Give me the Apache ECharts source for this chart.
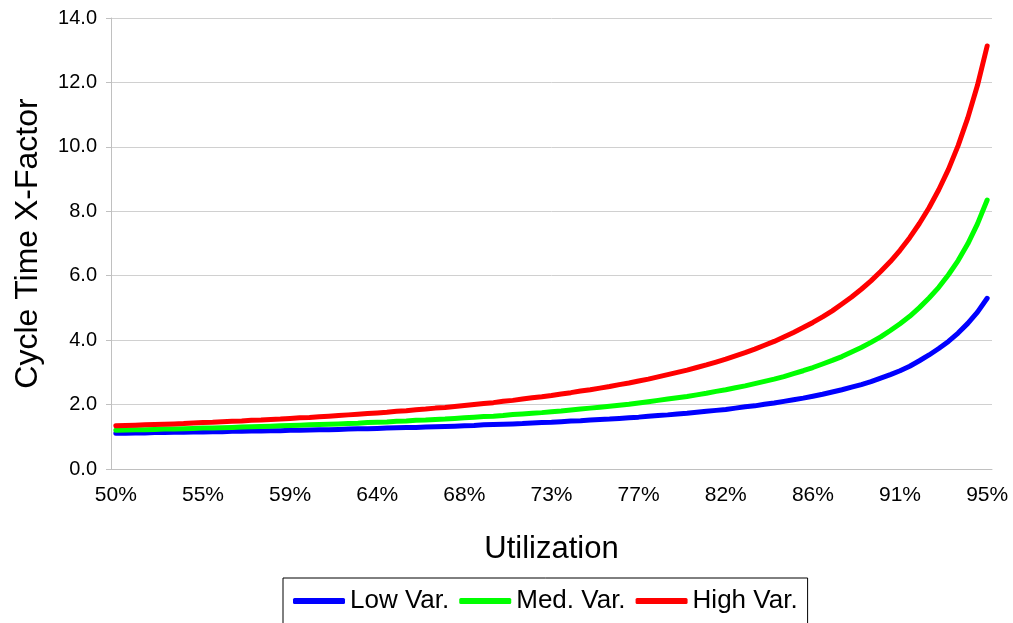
<!DOCTYPE html>
<html>
<head>
<meta charset="utf-8">
<script src="https://cdn.jsdelivr.net/npm/echarts@6/dist/echarts.min.js"></script>
<style>
html,body{margin:0;padding:0;background:#fff;}
#chart{width:1013px;height:623px;}
</style>
</head>
<body>
<div id="chart"></div>
<script>
// Utilization categories (percent)
const utilization = [50,50.5,51,51.5,52,52.5,53,53.5,54,54.5,55,55.5,56,56.5,57,57.5,58,58.5,59,59.5,60,60.5,61,61.5,62,62.5,63,63.5,64,64.5,65,65.5,66,66.5,67,67.5,68,68.5,69,69.5,70,70.5,71,71.5,72,72.5,73,73.5,74,74.5,75,75.5,76,76.5,77,77.5,78,78.5,79,79.5,80,80.5,81,81.5,82,82.5,83,83.5,84,84.5,85,85.5,86,86.5,87,87.5,88,88.5,89,89.5,90,90.5,91,91.5,92,92.5,93,93.5,94,94.5,95];

const tickLabels = ['50%','55%','59%','64%','68%','73%','77%','82%','86%','91%','95%'];
const yTickLabels = ['0.0','2.0','4.0','6.0','8.0','10.0','12.0','14.0'];

const lowVar = [1.11,1.11,1.12,1.12,1.13,1.13,1.14,1.14,1.15,1.15,
1.16,1.16,1.17,1.17,1.18,1.18,1.19,1.19,1.20,1.20,
1.21,1.22,1.22,1.23,1.24,1.25,1.25,1.26,1.27,1.28,
1.29,1.29,1.30,1.31,1.32,1.33,1.34,1.35,1.37,1.38,
1.39,1.40,1.41,1.43,1.44,1.45,1.47,1.49,1.50,1.52,
1.54,1.55,1.57,1.59,1.61,1.64,1.66,1.68,1.71,1.73,
1.76,1.79,1.82,1.85,1.89,1.93,1.96,2.01,2.05,2.10,
2.15,2.20,2.26,2.32,2.39,2.46,2.54,2.62,2.71,2.82,
2.93,3.05,3.19,3.36,3.54,3.74,3.96,4.22,4.52,4.87,
5.30];

const medVar = [1.20,1.21,1.22,1.22,1.23,1.24,1.24,1.25,1.26,1.27,
1.27,1.28,1.29,1.30,1.31,1.32,1.33,1.34,1.35,1.36,
1.37,1.38,1.39,1.40,1.41,1.42,1.44,1.45,1.46,1.48,
1.49,1.51,1.52,1.54,1.55,1.57,1.59,1.61,1.63,1.64,
1.66,1.69,1.71,1.73,1.75,1.78,1.80,1.83,1.86,1.89,
1.92,1.95,1.98,2.01,2.05,2.09,2.13,2.17,2.21,2.25,
2.30,2.35,2.41,2.46,2.52,2.58,2.65,2.72,2.79,2.87,
2.96,3.05,3.15,3.26,3.37,3.49,3.63,3.77,3.93,4.10,
4.30,4.51,4.74,5.01,5.31,5.64,6.03,6.47,6.99,7.61,
8.35];

const highVar = [1.34,1.35,1.36,1.37,1.38,1.39,1.40,1.41,1.43,1.44,
1.45,1.47,1.48,1.49,1.51,1.52,1.54,1.55,1.57,1.59,
1.60,1.62,1.64,1.66,1.68,1.70,1.72,1.74,1.76,1.79,
1.81,1.84,1.86,1.89,1.91,1.94,1.97,2.00,2.03,2.06,
2.10,2.13,2.17,2.21,2.24,2.28,2.33,2.37,2.42,2.46,
2.51,2.56,2.62,2.67,2.73,2.79,2.86,2.93,3.00,3.07,
3.15,3.23,3.32,3.41,3.51,3.61,3.72,3.84,3.96,4.10,
4.24,4.39,4.55,4.72,4.91,5.12,5.34,5.58,5.84,6.13,
6.44,6.79,7.18,7.62,8.11,8.67,9.30,10.04,10.90,11.91,
13.13];

const seriesNames = ['Low Var.','Med. Var.','High Var.'];
const seriesColors = ['#0000FF','#00FF00','#FF0000'];
const FONT = "'Liberation Sans', Arial, sans-serif";

const chart = echarts.init(document.getElementById('chart'), null, {renderer:'canvas'});
chart.setOption({
  backgroundColor:'#ffffff',
  animation:false,
  textStyle:{fontFamily:FONT},
  grid:{left:111, right:21, top:18, bottom:154, containLabel:false},
  legend:{
    data:seriesNames,
    left:283, top:578,
    orient:'horizontal',
    icon:'roundRect',
    itemWidth:52, itemHeight:6,
    itemGap:10,
    padding:[10,10,10,10],
    borderColor:'#000', borderWidth:1, borderRadius:0,
    backgroundColor:'#fff',
    textStyle:{fontSize:26, color:'#000', fontFamily:FONT}
  },
  xAxis:{
    type:'category',
    data:utilization.map(String),
    boundaryGap:true,
    axisLine:{show:true, lineStyle:{color:'#c0c0c0', width:1}},
    axisTick:{show:false},
    splitLine:{show:false},
    axisLabel:{
      interval:8,
      color:'#000', fontSize:21, margin:16, fontFamily:FONT,
      formatter:function(v, i){ const k = i/9; return tickLabels[k] !== undefined ? tickLabels[k] : ''; }
    },
    name:'Utilization',
    nameLocation:'middle',
    nameGap:80,
    nameTextStyle:{fontSize:31, color:'#000', fontFamily:FONT, verticalAlign:'middle'}
  },
  yAxis:{
    type:'value',
    min:0, max:14, interval:2,
    axisLine:{show:true, lineStyle:{color:'#c0c0c0', width:1}},
    axisTick:{show:true, length:5, lineStyle:{color:'#c0c0c0'}},
    splitLine:{show:true, lineStyle:{color:'#d0d0d0', width:1}},
    axisLabel:{
      color:'#000', fontSize:20, margin:14, fontFamily:FONT,
      formatter:function(v){ const k = Math.round(v/2); return yTickLabels[k] !== undefined ? yTickLabels[k] : v.toFixed(1); }
    },
    name:'Cycle Time X-Factor',
    nameLocation:'middle',
    nameGap:83,
    nameTextStyle:{fontSize:32, color:'#000', fontFamily:FONT, verticalAlign:'middle'}
  },
  series:[lowVar, medVar, highVar].map(function(d, i){
    return {
      name:seriesNames[i],
      type:'line',
      data:d,
      symbol:'none',
      showSymbol:false,
      smooth:false,
      color:seriesColors[i],
      lineStyle:{width:5, color:seriesColors[i], cap:'round', join:'round'}
    };
  })
});
</script>
</body>
</html>
